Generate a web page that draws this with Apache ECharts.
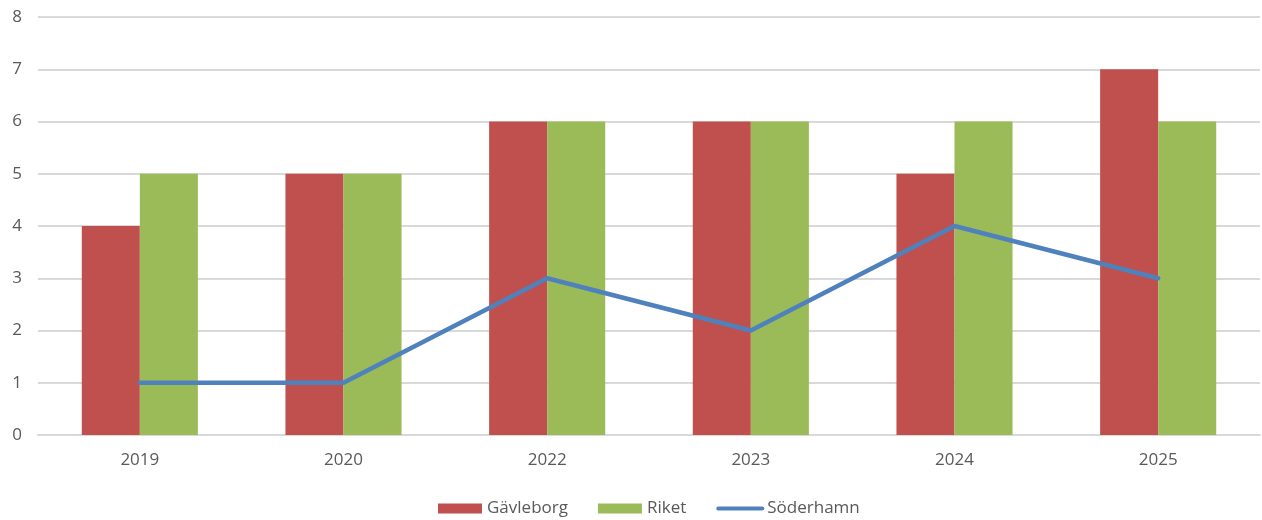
<!DOCTYPE html>
<html>
<head>
<meta charset="utf-8">
<script src="https://cdn.jsdelivr.net/npm/echarts@6/dist/echarts.min.js"></script>
<style>
  html, body { margin: 0; padding: 0; background: #fff; }
  #chart { width: 1262px; height: 520px; }
</style>
</head>
<body>
<div id="chart"></div>
<script>
const years = ['2019', '2020', '2022', '2023', '2024', '2025']
const gavleborg = [4, 5, 6, 6, 5, 7]
const riket = [5, 5, 6, 6, 6, 6]
const soderhamn = [1, 1, 3, 2, 4, 3]

const chart = echarts.init(document.getElementById('chart'))

const labelStyle = {
  color: '#595959',
  fontSize: 17,
  fontFamily: 'Open Sans'
}

chart.setOption({
  backgroundColor: '#ffffff',
  animation: false,
  grid: {
    left: 38,
    right: 2,
    top: 17,
    bottom: 85,
    containLabel: false
  },
  legend: {
    bottom: -2,
    left: 433,
    itemGap: 30,
    itemWidth: 44,
    itemHeight: 10,
    textStyle: labelStyle,
    data: [
      { name: 'Gävleborg', icon: 'rect' },
      { name: 'Riket', icon: 'rect' },
      { name: 'Söderhamn', itemStyle: { opacity: 0 }, lineStyle: { width: 4, cap: 'round' } }
    ]
  },
  xAxis: {
    type: 'category',
    data: years,
    axisLine: { lineStyle: { color: '#d9d9d9', width: 2 } },
    axisTick: { show: false },
    axisLabel: Object.assign({ margin: 17 }, labelStyle)
  },
  yAxis: {
    type: 'value',
    min: 0,
    max: 8,
    interval: 1,
    axisLine: { show: false },
    axisTick: { show: false },
    axisLabel: Object.assign({ margin: 16 }, labelStyle),
    splitLine: { lineStyle: { color: '#d9d9d9', width: 2 } }
  },
  series: [
    {
      name: 'Gävleborg',
      type: 'bar',
      data: gavleborg,
      barWidth: '28.5%',
      barGap: '0%',
      itemStyle: { color: '#C0504D' }
    },
    {
      name: 'Riket',
      type: 'bar',
      data: riket,
      barWidth: '28.5%',
      barGap: '0%',
      itemStyle: { color: '#9BBB59' }
    },
    {
      name: 'Söderhamn',
      type: 'line',
      data: soderhamn,
      showSymbol: false,
      symbol: 'none',
      lineStyle: { color: '#4F81BD', width: 4.5, cap: 'round' },
      itemStyle: { color: '#4F81BD' }
    }
  ]
})
</script>
</body>
</html>
